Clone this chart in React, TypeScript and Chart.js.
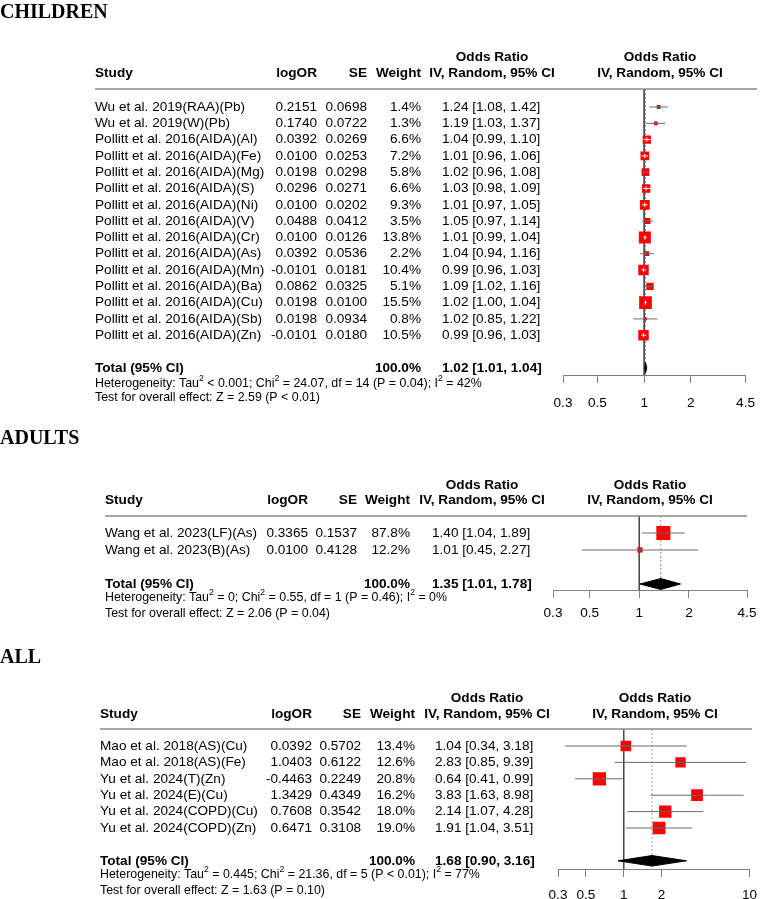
import React, { useEffect, useRef } from "react";
import { Chart, registerables } from "chart.js";
Chart.register(...registerables);

const FONT = "'Liberation Sans', Arial, Helvetica, sans-serif";
const SERIF = "'Liberation Serif', 'Times New Roman', serif";

// ---------- CHILDREN ----------
const CHILD_STUDIES = [
  "Wu et al. 2019(RAA)(Pb)",
  "Wu et al. 2019(W)(Pb)",
  "Pollitt et al. 2016(AIDA)(Al)",
  "Pollitt et al. 2016(AIDA)(Fe)",
  "Pollitt et al. 2016(AIDA)(Mg)",
  "Pollitt et al. 2016(AIDA)(S)",
  "Pollitt et al. 2016(AIDA)(Ni)",
  "Pollitt et al. 2016(AIDA)(V)",
  "Pollitt et al. 2016(AIDA)(Cr)",
  "Pollitt et al. 2016(AIDA)(As)",
  "Pollitt et al. 2016(AIDA)(Mn)",
  "Pollitt et al. 2016(AIDA)(Ba)",
  "Pollitt et al. 2016(AIDA)(Cu)",
  "Pollitt et al. 2016(AIDA)(Sb)",
  "Pollitt et al. 2016(AIDA)(Zn)",
];
const CHILD_LOGOR = [0.2151, 0.174, 0.0392, 0.01, 0.0198, 0.0296, 0.01, 0.0488, 0.01, 0.0392, -0.0101, 0.0862, 0.0198, 0.0198, -0.0101];
const CHILD_SE = [0.0698, 0.0722, 0.0269, 0.0253, 0.0298, 0.0271, 0.0202, 0.0412, 0.0126, 0.0536, 0.0181, 0.0325, 0.01, 0.0934, 0.018];
const CHILD_WEIGHT = [1.4, 1.3, 6.6, 7.2, 5.8, 6.6, 9.3, 3.5, 13.8, 2.2, 10.4, 5.1, 15.5, 0.8, 10.5];
const CHILD_OR = [1.24, 1.19, 1.04, 1.01, 1.02, 1.03, 1.01, 1.05, 1.01, 1.04, 0.99, 1.09, 1.02, 1.02, 0.99];
const CHILD_LO = [1.08, 1.03, 0.99, 0.96, 0.96, 0.98, 0.97, 0.97, 0.99, 0.94, 0.96, 1.02, 1.0, 0.85, 0.96];
const CHILD_HI = [1.42, 1.37, 1.1, 1.06, 1.08, 1.09, 1.05, 1.14, 1.04, 1.16, 1.03, 1.16, 1.04, 1.22, 1.03];
const CHILD_TOTAL = [1.02, 1.01, 1.04];
const CHILD_TICKS = [0.3, 0.5, 1, 2, 4.5];
const CHILD_HET = "Heterogeneity: Tau^2 < 0.001; Chi^2 = 24.07, df = 14 (P = 0.04); I^2 = 42%";
const CHILD_TEST = "Test for overall effect: Z = 2.59 (P < 0.01)";

// ---------- ADULTS ----------
const ADULT_STUDIES = ["Wang et al. 2023(LF)(As)", "Wang et al. 2023(B)(As)"];
const ADULT_LOGOR = [0.3365, 0.01];
const ADULT_SE = [0.1537, 0.4128];
const ADULT_WEIGHT = [87.8, 12.2];
const ADULT_OR = [1.4, 1.01];
const ADULT_LO = [1.04, 0.45];
const ADULT_HI = [1.89, 2.27];
const ADULT_TOTAL = [1.35, 1.01, 1.78];
const ADULT_TICKS = [0.3, 0.5, 1, 2, 4.5];
const ADULT_HET = "Heterogeneity: Tau^2 = 0; Chi^2 = 0.55, df = 1 (P = 0.46); I^2 = 0%";
const ADULT_TEST = "Test for overall effect: Z = 2.06 (P = 0.04)";

// ---------- ALL ----------
const ALL_STUDIES = [
  "Mao et al. 2018(AS)(Cu)",
  "Mao et al. 2018(AS)(Fe)",
  "Yu et al. 2024(T)(Zn)",
  "Yu et al. 2024(E)(Cu)",
  "Yu et al. 2024(COPD)(Cu)",
  "Yu et al. 2024(COPD)(Zn)",
];
const ALL_LOGOR = [0.0392, 1.0403, -0.4463, 1.3429, 0.7608, 0.6471];
const ALL_SE = [0.5702, 0.6122, 0.2249, 0.4349, 0.3542, 0.3108];
const ALL_WEIGHT = [13.4, 12.6, 20.8, 16.2, 18.0, 19.0];
const ALL_OR = [1.04, 2.83, 0.64, 3.83, 2.14, 1.91];
const ALL_LO = [0.34, 0.85, 0.41, 1.63, 1.07, 1.04];
const ALL_HI = [3.18, 9.39, 0.99, 8.98, 4.28, 3.51];
const ALL_TOTAL = [1.68, 0.9, 3.16];
const ALL_TICKS = [0.3, 0.5, 1, 2, 10];
const ALL_HET = "Heterogeneity: Tau^2 = 0.445; Chi^2 = 21.36, df = 5 (P < 0.01); I^2 = 77%";
const ALL_TEST = "Test for overall effect: Z = 1.63 (P = 0.10)";

type Lay = {
  titleY: number; study: number; log: number; se: number; w: number; ci: number; ciHead: number;
  plotL: number; plotR: number; yOR: number; yHead: number; yLine: number; row1: number; rowS: number;
  yAxis: number; yHet: number; yTest: number; maxSide: number; tickPad: number;
};
type Sec = {
  title: string; top: number; height: number; studies: string[]; logOR: number[]; se: number[];
  weight: number[]; or: number[]; lo: number[]; hi: number[]; total: number[]; ticks: number[];
  het: string; test: string; L: Lay;
};

const SECTIONS: Sec[] = [
  {
    title: "CHILDREN", top: 0, height: 415, studies: CHILD_STUDIES, logOR: CHILD_LOGOR, se: CHILD_SE,
    weight: CHILD_WEIGHT, or: CHILD_OR, lo: CHILD_LO, hi: CHILD_HI, total: CHILD_TOTAL, ticks: CHILD_TICKS,
    het: CHILD_HET, test: CHILD_TEST,
    L: { titleY: 18, study: 95, log: 317, se: 367, w: 421, ci: 442, ciHead: 492, plotL: 563, plotR: 757,
      yOR: 57, yHead: 73, yLine: 89, row1: 107, rowS: 16.3, yAxis: 375, yHet: 384, yTest: 398, maxSide: 12.7, tickPad: 12 },
  },
  {
    title: "ADULTS", top: 415, height: 210, studies: ADULT_STUDIES, logOR: ADULT_LOGOR, se: ADULT_SE,
    weight: ADULT_WEIGHT, or: ADULT_OR, lo: ADULT_LO, hi: ADULT_HI, total: ADULT_TOTAL, ticks: ADULT_TICKS,
    het: ADULT_HET, test: ADULT_TEST,
    L: { titleY: 444, study: 105, log: 308, se: 357, w: 410, ci: 432, ciHead: 482, plotL: 553, plotR: 747,
      yOR: 485, yHead: 500, yLine: 516, row1: 533, rowS: 17, yAxis: 590, yHet: 598, yTest: 614, maxSide: 14, tickPad: 7 },
  },
  {
    title: "ALL", top: 625, height: 274, studies: ALL_STUDIES, logOR: ALL_LOGOR, se: ALL_SE,
    weight: ALL_WEIGHT, or: ALL_OR, lo: ALL_LO, hi: ALL_HI, total: ALL_TOTAL, ticks: ALL_TICKS,
    het: ALL_HET, test: ALL_TEST,
    L: { titleY: 663, study: 100, log: 312, se: 361, w: 415, ci: 435, ciHead: 487, plotL: 558, plotR: 752,
      yOR: 698, yHead: 714, yLine: 729, row1: 746, rowS: 16.4, yAxis: 869, yHet: 875, yTest: 891, maxSide: 13.3, tickPad: 10 },
  },
];

const TS = 13.6; // table font size
const FS = 12.4; // footnote font size
const AXIS_H = 34;

function drawRich(ctx: CanvasRenderingContext2D, text: string, x: number, y: number, size: number) {
  const parts = text.split(/(\^\d)/).filter(Boolean);
  const sup = size * 0.7;
  let cx = x;
  ctx.textAlign = "left";
  for (const p of parts) {
    if (p.startsWith("^")) {
      ctx.font = `${sup}px ${FONT}`;
      ctx.fillText(p.slice(1), cx, y - size * 0.4);
      cx += ctx.measureText(p.slice(1)).width;
    } else {
      ctx.font = `${size}px ${FONT}`;
      ctx.fillText(p, cx, y);
      cx += ctx.measureText(p).width;
    }
  }
}

const ciText = (o: number, l: number, h: number) => `${o.toFixed(2)} [${l.toFixed(2)}, ${h.toFixed(2)}]`;

function makeTextPlugin(sec: Sec) {
  return {
    id: "forestText" + sec.title,
    afterDraw(chart: any) {
      const ctx: CanvasRenderingContext2D = chart.ctx;
      const ys = chart.scales.y;
      const L = sec.L;
      const T = sec.top;
      const n = sec.studies.length;
      ctx.save();
      ctx.fillStyle = "#000";
      ctx.font = `bold 20px ${SERIF}`;
      ctx.textAlign = "left";
      ctx.textBaseline = "alphabetic";
      ctx.fillText(sec.title, 0, L.titleY - T);
      ctx.textBaseline = "middle";
      ctx.font = `bold ${TS}px ${FONT}`;
      ctx.textAlign = "left";
      ctx.fillText("Study", L.study, L.yHead - T);
      ctx.textAlign = "right";
      ctx.fillText("logOR", L.log, L.yHead - T);
      ctx.fillText("SE", L.se, L.yHead - T);
      ctx.fillText("Weight", L.w, L.yHead - T);
      ctx.textAlign = "center";
      ctx.fillText("Odds Ratio", L.ciHead, L.yOR - T);
      ctx.fillText("IV, Random, 95% CI", L.ciHead, L.yHead - T);
      const pc = (L.plotL + L.plotR) / 2;
      ctx.fillText("Odds Ratio", pc, L.yOR - T);
      ctx.fillText("IV, Random, 95% CI", pc, L.yHead - T);
      ctx.strokeStyle = "#8a8a8a";
      ctx.lineWidth = 1.5;
      ctx.beginPath();
      ctx.moveTo(L.study, L.yLine - T);
      ctx.lineTo(L.plotR, L.yLine - T);
      ctx.stroke();
      ctx.font = `${TS}px ${FONT}`;
      for (let i = 0; i < n; i++) {
        const y = ys.getPixelForValue(i + 1);
        ctx.textAlign = "left";
        ctx.fillText(sec.studies[i], L.study, y);
        ctx.fillText(ciText(sec.or[i], sec.lo[i], sec.hi[i]), L.ci, y);
        ctx.textAlign = "right";
        ctx.fillText(sec.logOR[i].toFixed(4), L.log, y);
        ctx.fillText(sec.se[i].toFixed(4), L.se, y);
        ctx.fillText(sec.weight[i].toFixed(1) + "%", L.w, y);
      }
      const yt = ys.getPixelForValue(n + 2);
      ctx.font = `bold ${TS}px ${FONT}`;
      ctx.textAlign = "left";
      ctx.fillText("Total (95% CI)", L.study, yt);
      ctx.fillText(ciText(sec.total[0], sec.total[1], sec.total[2]), L.ci, yt);
      ctx.textAlign = "right";
      ctx.fillText("100.0%", L.w, yt);
      drawRich(ctx, sec.het, L.study, L.yHet - T, FS);
      drawRich(ctx, sec.test, L.study, L.yTest - T, FS);
      ctx.restore();
    },
  };
}

function ForestPanel({ sec }: { sec: Sec }) {
  const ref = useRef<HTMLCanvasElement>(null);
  useEffect(() => {
    const L = sec.L;
    const n = sec.studies.length;
    const T = sec.top;
    const yMin = 1 - (L.row1 - L.yLine) / L.rowS;
    const yMax = yMin + (L.yAxis - L.yLine) / L.rowS;
    const maxW = Math.max(...sec.weight);
    const sides = sec.weight.map((w) => L.maxSide * Math.sqrt(w / maxW));
    const t0 = sec.ticks[0];
    const t1 = sec.ticks[sec.ticks.length - 1];
    const pxPerLn = (L.plotR - L.plotL) / Math.log(t1 / t0);
    const inside = sec.lo.map((lo, i) => Math.log(sec.hi[i] / lo) * pxPerLn <= sides[i]);
    const lineCol = inside.map((v) => (v ? "#ffffff" : "#555555"));

    const datasets: any[] = [];
    for (let i = 0; i < n; i++) {
      datasets.push({
        data: [{ x: sec.lo[i], y: i + 1 }, { x: sec.hi[i], y: i + 1 }],
        borderColor: inside[i] ? "#ffffff" : "#6a6a6a",
        borderWidth: 1,
        pointRadius: 0,
        order: 1,
      });
    }
    datasets.push({
      data: sec.or.map((v, i) => ({ x: v, y: i + 1 })),
      showLine: false,
      pointStyle: "line",
      pointRotation: 90,
      pointRadius: 2.2,
      pointBorderColor: lineCol,
      pointBorderWidth: 1,
      order: 0,
    });
    datasets.push({
      data: sec.or.map((v, i) => ({ x: v, y: i + 1 })),
      showLine: false,
      pointStyle: "rect",
      pointRadius: sides.map((s) => s / 2 / Math.SQRT1_2),
      pointBackgroundColor: "#ff0000",
      pointBorderColor: "#ff0000",
      pointBorderWidth: 0,
      order: 2,
    });
    const ty = n + 2;
    const h = 0.32;
    datasets.push({
      data: [{ x: sec.total[1], y: ty }, { x: sec.total[0], y: ty - h }, { x: sec.total[2], y: ty }],
      borderColor: "#000",
      backgroundColor: "#000",
      borderWidth: 1,
      pointRadius: 0,
      tension: 0,
      fill: "+1",
      order: 3,
    });
    datasets.push({
      data: [{ x: sec.total[1], y: ty }, { x: sec.total[0], y: ty + h }, { x: sec.total[2], y: ty }],
      borderColor: "#000",
      backgroundColor: "#000",
      borderWidth: 1,
      pointRadius: 0,
      tension: 0,
      fill: false,
      order: 3,
    });
    datasets.push({
      data: [{ x: sec.total[0], y: yMin }, { x: sec.total[0], y: yMax }],
      borderColor: "#9a9a9a",
      borderWidth: 1,
      borderDash: [2, 2],
      pointRadius: 0,
      order: 4,
    });
    datasets.push({
      data: [{ x: 1, y: yMin }, { x: 1, y: yMax }],
      borderColor: "#4a4a4a",
      borderWidth: 1,
      pointRadius: 0,
      order: 5,
    });

    const chart = new Chart(ref.current as HTMLCanvasElement, {
      type: "line",
      data: { datasets },
      plugins: [makeTextPlugin(sec)],
      options: {
        animation: false,
        responsive: false,
        devicePixelRatio: 1,
        events: [],
        layout: {
          autoPadding: false,
          padding: {
            left: L.plotL,
            right: 767 - L.plotR,
            top: L.yLine - T,
            bottom: sec.height - (L.yAxis - T) - AXIS_H,
          },
        },
        plugins: { legend: { display: false }, tooltip: { enabled: false } },
        scales: {
          x: {
            type: "logarithmic",
            min: t0,
            max: t1,
            afterBuildTicks: (s: any) => {
              s.ticks = sec.ticks.map((v) => ({ value: v }));
            },
            afterFit: (s: any) => {
              s.height = AXIS_H;
            },
            grid: { display: true, drawOnChartArea: false, drawTicks: true, tickLength: 8, color: "#808080", lineWidth: 1 },
            border: { display: true, color: "#808080", width: 1 },
            ticks: {
              autoSkip: false,
              maxRotation: 0,
              minRotation: 0,
              padding: L.tickPad,
              color: "#000",
              font: { family: FONT, size: TS },
              callback: (v: any) => String(v),
            },
          },
          y: { type: "linear", display: false, reverse: true, min: yMin, max: yMax },
        },
      } as any,
    });
    return () => chart.destroy();
  }, [sec]);
  return (
    <canvas
      ref={ref}
      width={767}
      height={sec.height}
      style={{ position: "absolute", left: 0, top: sec.top, width: 767, height: sec.height, display: "block" }}
    />
  );
}

export default function App() {
  return (
    <div style={{ position: "absolute", left: 0, top: 0, width: 767, height: 899, background: "#fff", overflow: "hidden" }}>
      {SECTIONS.map((s) => (
        <ForestPanel key={s.title} sec={s} />
      ))}
    </div>
  );
}
